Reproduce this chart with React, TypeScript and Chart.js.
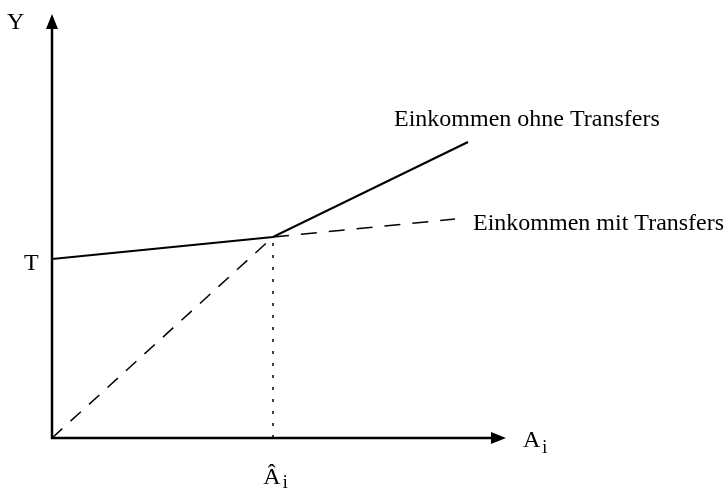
import React, { useEffect, useRef } from "react";
import { Chart, registerables } from "chart.js";
Chart.register(...registerables);

// data in abstract units (A on x, Y on y)
const xMax = 454;
const yMax = 424;
const T = 179;
const aHat = 221;
const yAtKink = 201;
const withoutTransfersX = [0, aHat, 416];
const withoutTransfersY = [T, yAtKink, 296];
const withTransfersExtX = [aHat, 403];
const withTransfersExtY = [yAtKink, 219];
const diagonalX = [0, aHat];
const diagonalY = [0, yAtKink];
const labels = {
  y: "Y",
  x: "A",
  sub: "i",
  t: "T",
  aHat: "Â",
  ohne: "Einkommen ohne Transfers",
  mit: "Einkommen mit Transfers",
};

const pts = (xs: number[], ys: number[]) => xs.map((x, i) => ({ x, y: ys[i] }));

const FONT = '"Liberation Serif", "Times New Roman", serif';

const axesPlugin = {
  id: "axesPlugin",
  afterDatasetsDraw(chart: any) {
    const ctx = chart.ctx;
    const xs = chart.scales.x;
    const ys = chart.scales.y;
    const x0 = xs.getPixelForValue(0);
    const y0 = ys.getPixelForValue(0);
    const xEnd = xs.getPixelForValue(xMax);
    const yEnd = ys.getPixelForValue(yMax);
    ctx.save();
    ctx.strokeStyle = "#000";
    ctx.fillStyle = "#000";
    ctx.lineWidth = 2.5;
    ctx.setLineDash([]);
    // y axis
    ctx.beginPath();
    ctx.moveTo(x0, y0 + 1);
    ctx.lineTo(x0, yEnd + 12);
    ctx.stroke();
    ctx.beginPath();
    ctx.moveTo(x0, yEnd);
    ctx.lineTo(x0 - 6, yEnd + 15);
    ctx.lineTo(x0 + 6, yEnd + 15);
    ctx.closePath();
    ctx.fill();
    // x axis
    ctx.beginPath();
    ctx.moveTo(x0 - 1, y0);
    ctx.lineTo(xEnd - 12, y0);
    ctx.stroke();
    ctx.beginPath();
    ctx.moveTo(xEnd, y0);
    ctx.lineTo(xEnd - 15, y0 - 6);
    ctx.lineTo(xEnd - 15, y0 + 6);
    ctx.closePath();
    ctx.fill();

    // labels
    ctx.textBaseline = "alphabetic";
    ctx.textAlign = "left";
    ctx.font = `24px ${FONT}`;
    ctx.fillText(labels.y, x0 - 45, yEnd + 15);
    ctx.fillText(labels.t, x0 - 28, ys.getPixelForValue(T) + 11);
    // A_i
    ctx.fillText(labels.x, xEnd + 17, y0 + 9);
    const aw = ctx.measureText(labels.x).width;
    ctx.font = `18px ${FONT}`;
    ctx.fillText(labels.sub, xEnd + 17 + aw + 2, y0 + 15);
    // A hat
    ctx.font = `24px ${FONT}`;
    const ax = xs.getPixelForValue(aHat);
    const hw = ctx.measureText(labels.aHat).width;
    ctx.fillText(labels.aHat, ax - hw / 2 - 1, y0 + 46);
    ctx.font = `18px ${FONT}`;
    ctx.fillText(labels.sub, ax + hw / 2 + 1, y0 + 50);
    // series labels
    ctx.font = `24px ${FONT}`;
    ctx.fillText(labels.ohne, xs.getPixelForValue(342), ys.getPixelForValue(312));
    ctx.fillText(labels.mit, xs.getPixelForValue(421), ys.getPixelForValue(208));
    ctx.restore();
  },
};

export default function App() {
  const ref = useRef<HTMLCanvasElement>(null);
  useEffect(() => {
    if (!ref.current) return;
    const chart = new Chart(ref.current, {
      type: "scatter",
      data: {
        datasets: [
          {
            data: pts(withoutTransfersX, withoutTransfersY),
            showLine: true,
            borderColor: "#000",
            borderWidth: 2.2,
            pointRadius: 0,
          },
          {
            data: pts(withTransfersExtX, withTransfersExtY),
            showLine: true,
            borderColor: "#000",
            borderWidth: 1.5,
            borderDash: [16, 12],
            pointRadius: 0,
          },
          {
            data: pts(diagonalX, diagonalY),
            showLine: true,
            borderColor: "#000",
            borderWidth: 1.5,
            borderDash: [14, 11],
            pointRadius: 0,
          },
          {
            data: [
              { x: aHat, y: 0 },
              { x: aHat, y: yAtKink },
            ],
            showLine: true,
            borderColor: "#000",
            borderWidth: 1.5,
            borderDash: [3, 9],
            pointRadius: 0,
          },
        ],
      },
      options: {
        animation: false,
        responsive: false,
        events: [],
        layout: { padding: { left: 52, top: 14, right: 219, bottom: 55 } },
        plugins: { legend: { display: false }, tooltip: { enabled: false } },
        scales: {
          x: { type: "linear", min: 0, max: xMax, display: false },
          y: { type: "linear", min: 0, max: yMax, display: false },
        },
      },
      plugins: [axesPlugin],
    });
    return () => chart.destroy();
  }, []);
  return (
    <div style={{ position: "fixed", left: 0, top: 0, width: 725, height: 493, background: "#fff" }}>
      <canvas ref={ref} width={725} height={493} style={{ width: 725, height: 493 }} />
    </div>
  );
}
